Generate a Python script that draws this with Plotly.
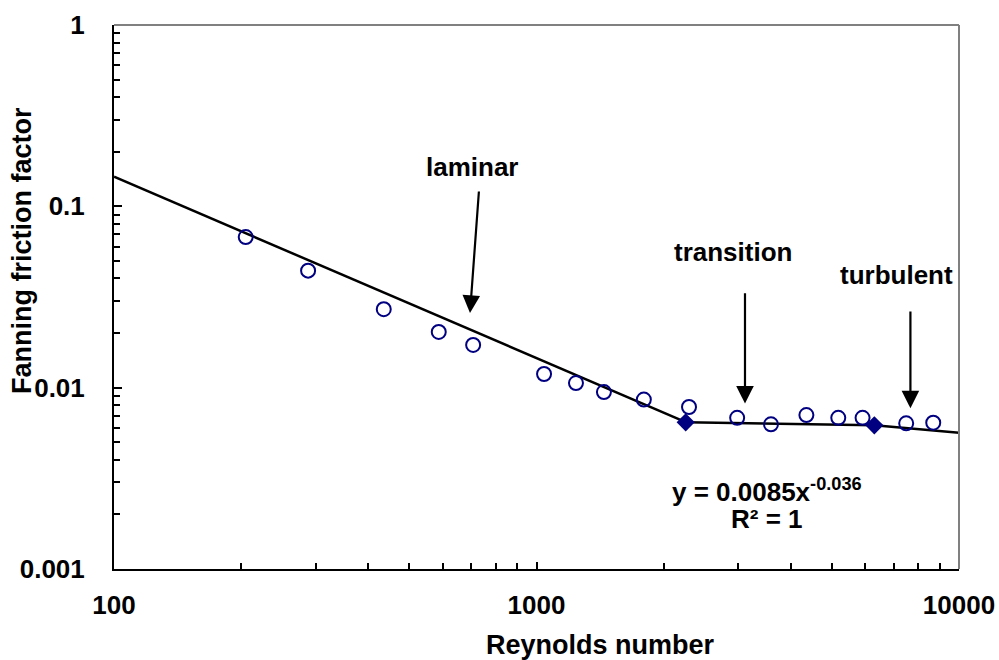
import numpy as np
import plotly.graph_objects as go

# Measured friction factors
re_data = [205, 288, 435, 587, 708, 1042, 1240, 1444, 1795, 2296,
           2985, 3589, 4353, 5179, 5912, 7499, 8690]
f_data = [0.0677, 0.0442, 0.0271, 0.0203, 0.0172, 0.0119, 0.0106, 0.00946,
          0.00860, 0.00782, 0.00682, 0.00628, 0.00706, 0.00682, 0.00682,
          0.00636, 0.00641]

# Regime boundary points (transition fit end points)
re_bound = [2255, 6304]
f_bound = [0.00644, 0.00620]

# Laminar line f = C / Re
laminar_c = 14.56
re_laminar = [100, 2255]

# Transition power-law fit y = a x^b
fit_a = 0.0085
fit_b = -0.036

# Turbulent line end points
re_turb = [6304, 10000]
f_turb = [0.00620, 0.00564]

x_ticks = [100, 1000, 10000]
x_tick_text = ["100", "1000", "10000"]
y_ticks = [0.001, 0.01, 0.1, 1]
y_tick_text = ["0.001", "0.01", "0.1", "1"]

FONT = "Liberation Sans, Arial, sans-serif"
NAVY = "#000080"

fig = go.Figure()

fig.add_trace(go.Scatter(
    x=re_laminar, y=[laminar_c / r for r in re_laminar],
    mode="lines", line=dict(color="black", width=2.5), showlegend=False))

re_fit = np.array(re_bound, dtype=float)
fig.add_trace(go.Scatter(
    x=re_fit, y=fit_a * re_fit ** fit_b,
    mode="lines", line=dict(color="black", width=2.5), showlegend=False))

fig.add_trace(go.Scatter(
    x=re_turb, y=f_turb,
    mode="lines", line=dict(color="black", width=2.5), showlegend=False))

fig.add_trace(go.Scatter(
    x=re_data, y=f_data, mode="markers",
    marker=dict(symbol="circle-open", size=14, color=NAVY, line=dict(width=2)),
    showlegend=False))

fig.add_trace(go.Scatter(
    x=re_bound, y=f_bound, mode="markers",
    marker=dict(symbol="diamond", size=14, color=NAVY),
    showlegend=False))

bold = dict(family=FONT, size=26, color="black", weight="bold")
title_font = dict(family=FONT, size=27, color="black", weight="bold")

# Regime labels with arrows: (label, text Re, text f, tail Re, tail f, tip Re, tip f)
regimes = [
    ("laminar", 706, 0.165, 731, 0.123, 696, 0.0258),
    ("transition", 2917, 0.0562, 3115, 0.0338, 3115, 0.00818),
    ("turbulent", 7121, 0.0418, 7674, 0.0268, 7674, 0.00769),
]
for label, tx, ty, ax_, ay_, px, py in regimes:
    fig.add_annotation(x=np.log10(tx), y=np.log10(ty), text=f"<b>{label}</b>",
                       showarrow=False, font=bold, xanchor="center", yanchor="middle")
    fig.add_annotation(x=np.log10(px), y=np.log10(py), ax=np.log10(ax_), ay=np.log10(ay_),
                       axref="x", ayref="y", text="", showarrow=True,
                       arrowhead=2, arrowsize=1.6, arrowwidth=2.2, arrowcolor="black")

# Fit equation label
fig.add_annotation(x=np.log10(3510), y=np.log10(0.00272),
                   text="<b>y = 0.0085x<sup>-0.036</sup></b>",
                   showarrow=False, font=bold, xanchor="center", yanchor="middle")
fig.add_annotation(x=np.log10(3510), y=np.log10(0.00188),
                   text="<b>R² = 1</b>",
                   showarrow=False, font=bold, xanchor="center", yanchor="middle")

# Axis titles
fig.add_annotation(xref="paper", yref="paper", x=(600 - 114) / 845, y=-(645 - 569) / 544,
                   text="<b>Reynolds number</b>", showarrow=False, font=title_font,
                   xanchor="center", yanchor="middle")
fig.add_annotation(xref="paper", yref="paper", x=-(114 - 22) / 845, y=(569 - 251) / 544,
                   text="<b>Fanning friction factor</b>", showarrow=False, font=title_font,
                   textangle=-90, xanchor="center", yanchor="middle")

# Grey frame on top and right
fig.add_shape(type="line", xref="paper", yref="paper", x0=0, x1=1, y0=1, y1=1,
              line=dict(color="#808080", width=2))
fig.add_shape(type="line", xref="paper", yref="paper", x0=1, x1=1, y0=0, y1=1,
              line=dict(color="#808080", width=2))

fig.update_xaxes(
    type="log", range=[2, 4], showgrid=False, zeroline=False, automargin=False,
    showline=True, linecolor="black", linewidth=2,
    tickvals=x_ticks, ticktext=x_tick_text,
    ticks="inside", ticklen=7, tickwidth=1.5, tickcolor="black",
    tickfont=bold, ticklabelstandoff=12,
    minor=dict(ticks="inside", ticklen=6, tickwidth=1.5, tickcolor="black",
               tickvals=[m * d for d in (100, 1000) for m in range(2, 10)]),
)
fig.update_yaxes(
    type="log", range=[-3, 0], showgrid=False, zeroline=False, automargin=False,
    showline=True, linecolor="black", linewidth=2,
    tickvals=y_ticks, ticktext=y_tick_text,
    ticks="inside", ticklen=8, tickwidth=1.5, tickcolor="black",
    tickfont=bold, ticklabelstandoff=22,
    minor=dict(ticks="inside", ticklen=6, tickwidth=1.5, tickcolor="black",
               tickvals=[m * d for d in (0.001, 0.01, 0.1) for m in range(2, 10)]),
)

fig.update_layout(
    width=999, height=660,
    margin=dict(l=114, r=40, t=25, b=91),
    plot_bgcolor="white", paper_bgcolor="white",
    showlegend=False,
)

fig.write_html("out.html")
